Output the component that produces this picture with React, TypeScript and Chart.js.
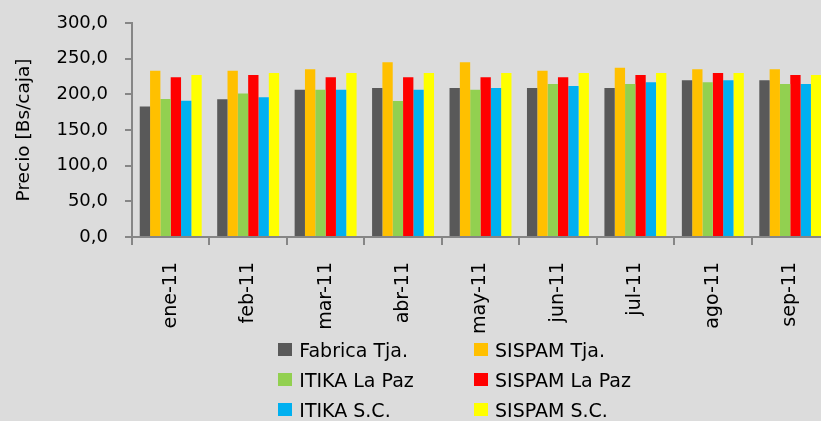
import React, { useEffect, useRef } from "react";
import { Chart, registerables } from "chart.js";

Chart.register(...registerables);

const categories = ["ene-11", "feb-11", "mar-11", "abr-11", "may-11", "jun-11", "jul-11", "ago-11", "sep-11"];

const fabricaTja = [183, 193, 206.5, 209, 209, 209, 209, 219.6, 219.6];
const sispamTja = [233, 233, 235, 245, 245, 233, 237.4, 235, 235];
const itikaLaPaz = [193.5, 201, 206.5, 190.7, 206.5, 214.5, 214.5, 217, 214.5];
const sispamLaPaz = [224, 227, 224, 224, 224, 224, 227, 230, 227];
const itikaSC = [191, 196, 206.5, 206.5, 209, 211.7, 216.9, 219.6, 214.5];
const sispamSC = [227, 230, 230, 230, 230, 230, 230, 230, 227];

const seriesNames = ["Fabrica Tja.", "SISPAM Tja.", "ITIKA La Paz", "SISPAM La Paz", "ITIKA S.C.", "SISPAM S.C."];
const seriesColors = ["#595959", "#FFC000", "#92D050", "#FF0000", "#00B0F0", "#FFFF00"];
const seriesValues = [fabricaTja, sispamTja, itikaLaPaz, sispamLaPaz, itikaSC, sispamSC];

const yMin = 0;
const yMax = 300;
const yStep = 50;
const yTitle = "Precio [Bs/caja]";

const FONT = "'DejaVu Sans', sans-serif";
const AXIS = "#868686";
const BG = "#dcdcdc";

// legend order: row-major, 2 columns
const legendOrder = [0, 1, 2, 3, 4, 5];

export default function App() {
  const ref = useRef<HTMLCanvasElement | null>(null);

  useEffect(() => {
    if (!ref.current) return;
    const chart = new Chart(ref.current, {
      type: "bar",
      data: {
        labels: categories,
        datasets: seriesNames.map((name, i) => ({
          label: name,
          data: seriesValues[i],
          backgroundColor: seriesColors[i],
          borderWidth: 0,
          categoryPercentage: 0.8,
          barPercentage: 1.0,
        })),
      },
      options: {
        responsive: false,
        animation: false,
        layout: { padding: { left: 0, top: 23, right: 11, bottom: 0 } },
        plugins: {
          legend: { display: false },
          tooltip: { enabled: false },
        },
        scales: {
          x: {
            type: "category",
            offset: true,
            grid: {
              offset: true,
              drawOnChartArea: false,
              drawTicks: true,
              tickLength: 8,
              color: AXIS,
              lineWidth: 2,
            },
            border: { color: AXIS, width: 2 },
            ticks: {
              minRotation: 90,
              maxRotation: 90,
              autoSkip: false,
              padding: 17,
              color: "#000",
              font: { family: FONT, size: 19 },
            },
            afterFit: (scale: any) => {
              scale.height = 421 - 237;
            },
          },
          y: {
            min: yMin,
            max: yMax,
            grid: {
              drawOnChartArea: false,
              drawTicks: true,
              tickLength: 7,
              color: AXIS,
              lineWidth: 2,
            },
            border: { color: AXIS, width: 2 },
            ticks: {
              stepSize: yStep,
              padding: 17,
              color: "#000",
              font: { family: FONT, size: 18 },
              callback: (v: any) => Number(v).toFixed(1).replace(".", ","),
            },
            title: {
              display: true,
              text: yTitle,
              color: "#000",
              font: { family: FONT, size: 18.5 },
              padding: { top: 13, bottom: 0 },
            },
            afterFit: (scale: any) => {
              scale.width = 132;
              scale.paddingTop = 0;
              scale.paddingBottom = 0;
            },
          },
        },
      },
    });
    return () => chart.destroy();
  }, []);

  const rowTop0 = 335.3;
  const rowPitch = 29.8;
  const colX = [278.3, 474];

  return (
    <div
      style={{
        position: "fixed",
        left: 0,
        top: 0,
        width: 821,
        height: 421,
        overflow: "hidden",
        background: BG,
      }}
    >
      <canvas ref={ref} width={840} height={421} style={{ display: "block" }} />
      {legendOrder.map((si, k) => {
        const row = Math.floor(k / 2);
        const col = k % 2;
        return (
          <div
            key={si}
            style={{
              position: "absolute",
              left: colX[col],
              top: rowTop0 + row * rowPitch,
              height: 30,
              lineHeight: "30px",
              whiteSpace: "nowrap",
              fontFamily: FONT,
              fontSize: 19,
              color: "#000",
            }}
          >
            <span
              style={{
                position: "absolute",
                left: 0,
                top: 7.7,
                width: 14,
                height: 13,
                background: seriesColors[si],
              }}
            />
            <span style={{ paddingLeft: 21 }}>{seriesNames[si]}</span>
          </div>
        );
      })}
    </div>
  );
}
